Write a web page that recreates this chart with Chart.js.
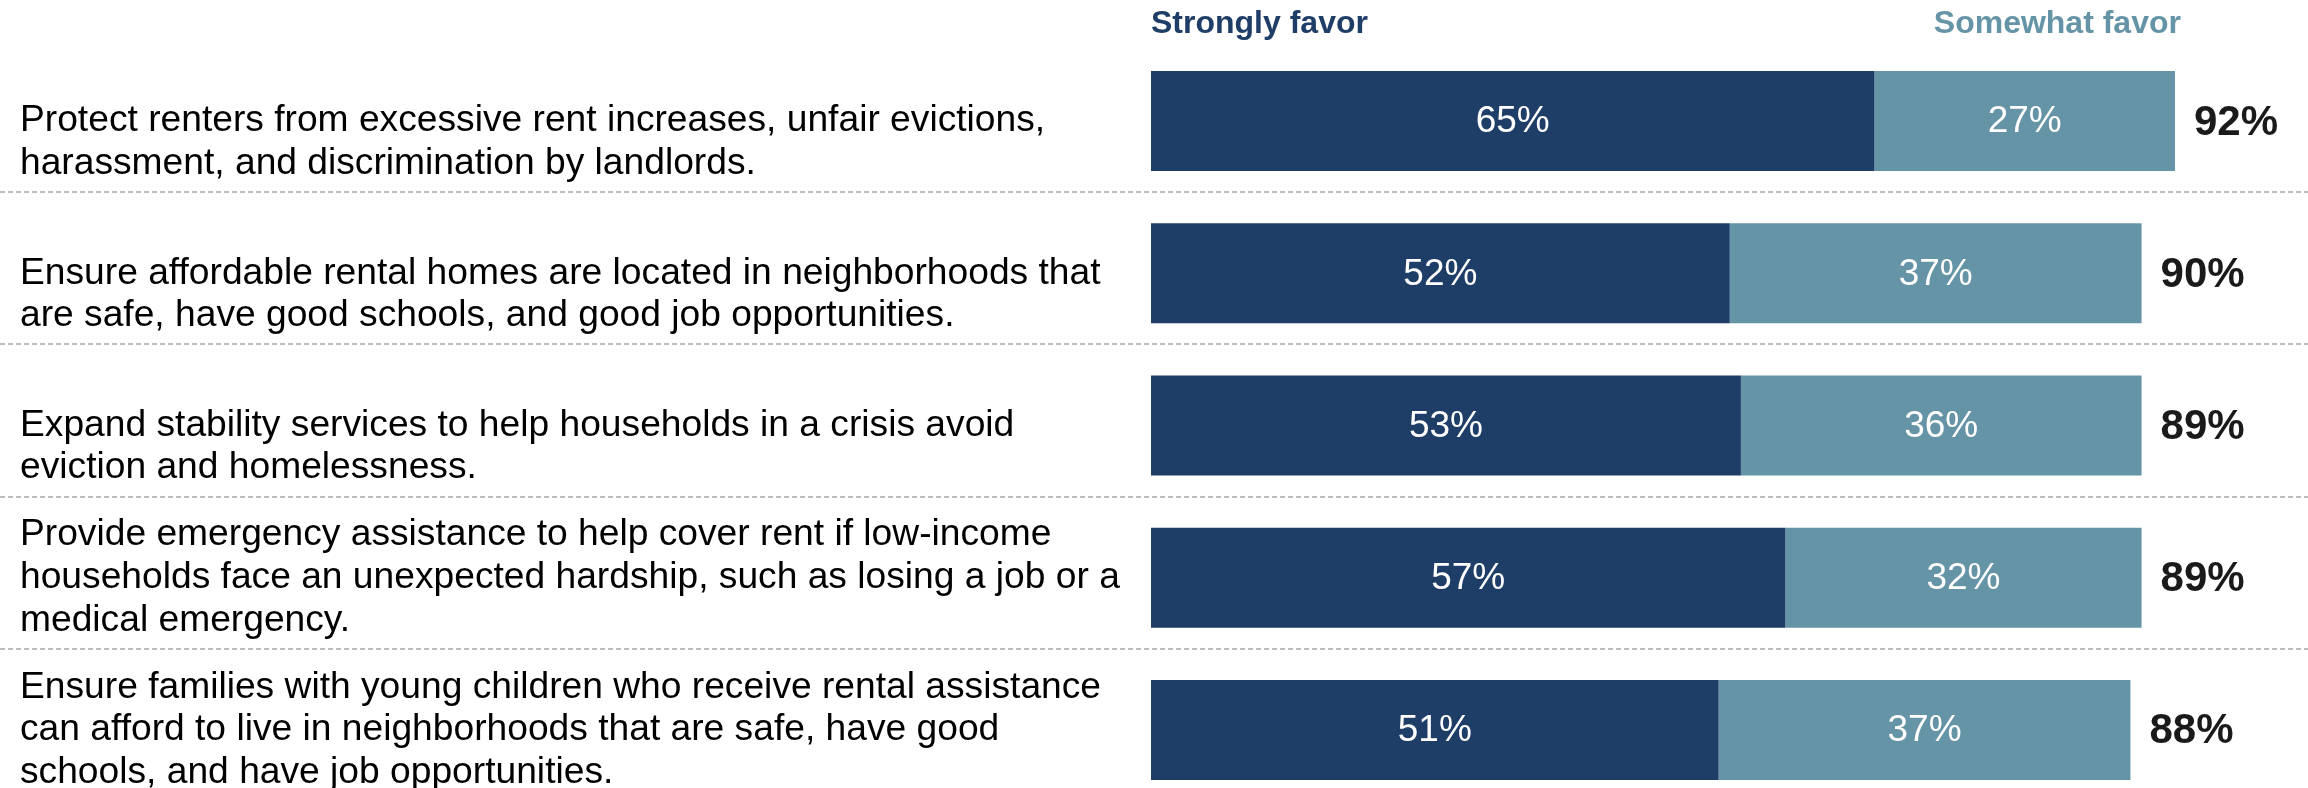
<!DOCTYPE html>
<html>
<head>
<meta charset="utf-8">
<title>Support for renter policies</title>
<script src="https://cdn.jsdelivr.net/npm/chart.js@4.4.0/dist/chart.umd.min.js"></script>
<style>
  html, body { margin: 0; padding: 0; background: #fff; overflow: hidden; }
  #wrap { position: relative; width: 2308px; height: 830px; }
</style>
</head>
<body>
<div id="wrap"><canvas id="chart"></canvas></div>
<script>
// data
const categories = [
  ["Protect renters from excessive rent increases, unfair evictions,", "harassment, and discrimination by landlords."],
  ["Ensure affordable rental homes are located in neighborhoods that", "are safe, have good schools, and good job opportunities."],
  ["Expand stability services to help households in a crisis avoid", "eviction and homelessness."],
  ["Provide emergency assistance to help cover rent if low-income", "households face an unexpected hardship, such as losing a job or a", "medical emergency."],
  ["Ensure families with young children who receive rental assistance", "can afford to live in neighborhoods that are safe, have good", "schools, and have job opportunities."]
];
const seriesNames = ["Strongly favor", "Somewhat favor"];
const stronglyFavor = [65, 52, 53, 57, 51];
const somewhatFavor = [27, 37, 36, 32, 37];
const totalFavor = [92, 90, 89, 89, 88];

const FONT = '"Liberation Sans", Arial, Helvetica, sans-serif';
const DARK = '#1f3e67';
const LIGHT = '#6594a7';
const LABEL_SIZE = 37.2;
const LINE_H = 42.6;

// dashed separators between rows, across the whole width
const separators = {
  id: 'separators',
  beforeDatasetsDraw(chart) {
    const y = chart.scales.y;
    const ctx = chart.ctx;
    ctx.save();
    ctx.strokeStyle = '#bcbcbc';
    ctx.lineWidth = 2;
    ctx.setLineDash([5, 3]);
    for (let i = 0; i < categories.length - 1; i++) {
      const py = Math.round((y.getPixelForValue(i) + y.getPixelForValue(i + 1)) / 2) - 5;
      ctx.beginPath();
      ctx.moveTo(0, py);
      ctx.lineTo(chart.width, py);
      ctx.stroke();
    }
    ctx.restore();
  }
};

// row texts: left aligned, sitting in a three-line box centred on the bar
const rowLabels = {
  id: 'rowLabels',
  afterDraw(chart) {
    const y = chart.scales.y;
    const ctx = chart.ctx;
    ctx.save();
    ctx.font = LABEL_SIZE + 'px ' + FONT;
    ctx.fillStyle = '#000';
    ctx.textAlign = 'left';
    ctx.textBaseline = 'middle';
    categories.forEach((lines, i) => {
      const cy = y.getPixelForValue(i);
      lines.forEach((t, k) => {
        ctx.fillText(t, 20, cy + LINE_H * (2 - lines.length + k));
      });
    });
    ctx.restore();
  }
};

// percentages inside the bars + bold totals at the end
const barLabels = {
  id: 'barLabels',
  afterDatasetsDraw(chart) {
    const ctx = chart.ctx;
    ctx.save();
    ctx.textBaseline = 'middle';
    chart.data.datasets.forEach((ds, di) => {
      const meta = chart.getDatasetMeta(di);
      meta.data.forEach((bar, i) => {
        ctx.fillStyle = '#ffffff';
        ctx.textAlign = 'center';
        ctx.font = '37px ' + FONT;
        ctx.fillText(ds.data[i] + '%', (bar.x + bar.base) / 2, bar.y + 1);
      });
    });
    const last = chart.getDatasetMeta(chart.data.datasets.length - 1);
    last.data.forEach((bar, i) => {
      ctx.fillStyle = '#1a1a1a';
      ctx.textAlign = 'left';
      ctx.font = 'bold 42px ' + FONT;
      ctx.fillText(totalFavor[i] + '%', bar.x + 19, bar.y + 2);
    });
    ctx.restore();
  }
};

// column headers in place of a legend
const headers = {
  id: 'headers',
  afterDraw(chart) {
    const ctx = chart.ctx;
    const x = chart.scales.x;
    ctx.save();
    ctx.textBaseline = 'middle';
    ctx.font = 'bold 32px ' + FONT;
    ctx.fillStyle = DARK;
    ctx.textAlign = 'left';
    ctx.fillText(seriesNames[0], chart.chartArea.left, 24);
    ctx.fillStyle = LIGHT;
    ctx.textAlign = 'right';
    ctx.fillText(seriesNames[1], x.getPixelForValue(stronglyFavor[0] + somewhatFavor[0]) + 6, 24);
    ctx.restore();
  }
};

const ctx = document.getElementById('chart').getContext('2d');
const chart = new Chart(ctx, {
  type: 'bar',
  data: {
    labels: categories,
    datasets: [
      { label: seriesNames[0], data: stronglyFavor, backgroundColor: DARK },
      { label: seriesNames[1], data: somewhatFavor, backgroundColor: LIGHT }
    ].map(d => Object.assign(d, { borderWidth: 0, barPercentage: 0.657, categoryPercentage: 1 }))
  },
  options: {
    indexAxis: 'y',
    responsive: true,
    maintainAspectRatio: false,
    animation: false,
    layout: { padding: { left: 20, top: 45, right: 44, bottom: 24 } },
    plugins: {
      legend: { display: false },
      tooltip: { enabled: false }
    },
    scales: {
      x: { stacked: true, min: 0, max: 100, display: false },
      y: {
        stacked: true,
        grid: { display: false },
        border: { display: false },
        ticks: { display: false },
        afterFit(scale) {
          // room on the left for the wrapped row texts
          scale.width = 1131;
          scale.paddingTop = 0;
          scale.paddingBottom = 0;
        }
      }
    }
  },
  plugins: [separators, barLabels, rowLabels, headers]
});
</script>
</body>
</html>
